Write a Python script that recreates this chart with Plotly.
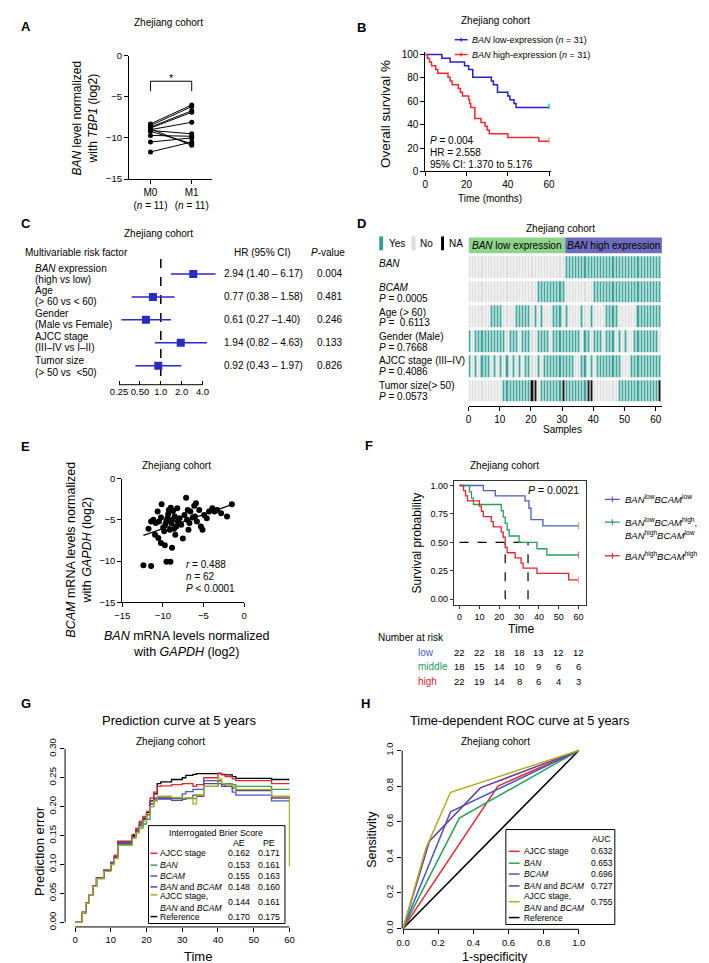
import numpy as np
import plotly.graph_objects as go

W, H = 709, 963
FONT = "Arial, Liberation Sans, Helvetica, sans-serif"

# ======================= DATA =======================
# Panel A (paired samples)
a_groups = ["M0", "M1"]
a_group_n = [11, 11]
a_m0 = [-8.3, -8.5, -8.7, -8.8, -9.0, -8.9, -9.1, -9.2, -9.7, -10.5, -11.7]
a_m1 = [-6.0, -6.2, -6.7, -6.9, -8.1, -10.9, -9.5, -10.7, -9.8, -10.0, -10.5]
a_yticks = [-15, -10, -5, 0]

# Panel B (Kaplan-Meier, %)
b_low_t = [0, 8, 12, 19, 21, 23, 32, 33, 35, 40, 41, 43, 44, 60]
b_low_s = [100, 96.8, 93.5, 90.3, 87.1, 80.6, 77.4, 74.2, 67.7, 64.5, 61.3, 58.1, 54.8, 54.8]
b_high_t = [0, 1, 2, 3, 5, 6, 11, 12, 13, 16, 17, 18, 21, 21.5, 22, 24, 27, 29, 30, 31, 40, 55, 60]
b_high_s = [100, 96.8, 93.5, 90.3, 87.1, 83.9, 80.6, 77.4, 74.2, 71.0, 67.7, 64.5, 61.3, 58.1,
            54.8, 45.2, 41.9, 38.7, 35.5, 32.3, 29.0, 25.8, 25.8]
b_xticks = [0, 20, 40, 60]
b_yticks = [0, 20, 40, 60, 80, 100]

# Panel C (forest plot)
c_factor_l1 = ["<i>BAN</i> expression", "Age", "Gender", "AJCC stage", "Tumor size"]
c_factor_l2 = ["(high vs low)", "(&gt; 60 vs &lt; 60)", "(Male vs Female)", "(III–IV vs I–II)", "(&gt; 50 vs  &lt;50)"]
c_hr = [2.94, 0.77, 0.61, 1.94, 0.92]
c_lo = [1.40, 0.38, 0.27, 0.82, 0.43]
c_hi = [6.17, 1.58, 1.40, 4.63, 1.97]
c_hr_text = ["2.94 (1.40 – 6.17)", "0.77 (0.38 – 1.58)", "0.61 (0.27 –1.40)",
             "1.94 (0.82 – 4.63)", "0.92 (0.43 – 1.97)"]
c_p = ["0.004", "0.481", "0.246", "0.133", "0.826"]
c_ticks = [0.25, 0.5, 1.0, 2.0, 4.0]
c_ticktext = ["0.25", "0.50", "1.0", "2.0", "4.0"]

# Panel D (Y = yes, N = no, A = NA), 62 samples per row
d_rows = ["<i>BAN</i>", "<i>BCAM</i>", "Age (&gt; 60)", "Gender (Male)", "AJCC stage (III–IV)", "Tumor size(&gt; 50)"]
d_pvals = ["", "0.0005", " 0.6113", "0.7668", "0.4086", "0.0573"]
d_ban = "NNNNNNNNNN" "NNNNNNNNNN" "NNNNNNNNNN" "NYYYYYYYYY" "YYYYYYYYYY" "YYYYYYYYYY" "YY"
d_bcam = "NNNNNNNNNN" "NNNNNNNNNN" "NNYYYYYYYY" "YNNNNNNNNN" "YYYYYYYYYY" "YYYYYYYYYY" "YY"
d_age = "NNNNNNNYYY" "YNNNNYYYYY" "NYNYNNNYYY" "NYNNNNYNNY" "NNNNYYYYNN" "NNNNYYYYYY" "YY"
d_gender = "YNYYYYYYYY" "YYNYYYNYYY" "NNYYYYNYYY" "YYYYYYNYYN" "YYYNYYYNYN" "YNNYYYYYYY" "YN"
d_ajcc = "YNYNYYYNYN" "YNYNYNYNYY" "NNYNYYYYYY" "YYYYNNYYNY" "NYYYYYYYYN" "NNYYYYYYYY" "YY"
d_tumor = "NNNNNNNNNN" "NYYYYYYYYY" "AANYYYYYYY" "AYYYYYYYAA" "NNNNNNNNYY" "YYYYYYYYYY" "YA"
d_xticks = [0, 10, 20, 30, 40, 50, 60]

# Panel E (scatter)
e_ban = [-11.77, -11.45, -11.17, -10.89, -10.65, -10.48, -10.24, -10.16, -9.96, -9.84, -9.68, -9.56,
         -9.44, -9.35, -9.27, -9.15, -9.03, -8.95, -8.83, -8.75, -8.63, -8.55, -8.47, -8.35, -8.23,
         -8.15, -7.94, -7.74, -7.54, -7.34, -7.14, -7.02, -6.94, -6.85, -6.73, -6.61, -6.33, -6.13,
         -6.05, -5.93, -5.81, -5.52, -5.32, -5.12, -4.92, -4.6, -4.31, -3.91, -3.63, -3.31, -2.82,
         -2.1, -1.5, -10.56, -10.24, -9.76, -8.87, -10.97, -12.4, -11.45, -9.56, -9.07]
e_bcam = [-6.08, -5.2, -5.0, -5.4, -4.0, -5.2, -4.72, -3.12, -5.92, -6.4, -5.52, -5.12, -4.8, -4.32,
          -3.8, -6.2, -3.52, -5.4, -5.0, -3.92, -6.08, -4.6, -6.8, -5.8, -3.6, -5.2, -4.8, -5.6,
          -7.28, -4.4, -2.32, -5.0, -3.8, -6.2, -5.4, -4.0, -4.72, -3.28, -4.6, -3.0, -5.2, -3.8,
          -5.8, -6.2, -4.4, -4.8, -4.0, -3.6, -4.0, -3.8, -4.2, -4.6, -3.12, -7.2, -7.8, -8.08,
          -8.4, -6.8, -10.5, -10.6, -10.1, -10.1]
e_ticks = [-15, -10, -5, 0]

# Panel F (Kaplan-Meier, 3 groups)
f_low_t = [0, 12, 18, 33, 35, 36, 42, 60]
f_low_s = [1.0, 0.955, 0.909, 0.864, 0.80, 0.70, 0.645, 0.645]
f_mid_t = [0, 5, 6, 7, 21, 22, 23, 24, 25, 30, 39, 44, 60]
f_mid_s = [1.0, 0.944, 0.889, 0.833, 0.778, 0.722, 0.667, 0.611, 0.556, 0.50, 0.444, 0.389, 0.389]
f_high_t = [0, 2, 3, 4, 10, 11, 12, 16, 17, 21, 22, 23, 24, 28, 31, 32, 39, 55, 60]
f_high_s = [1.0, 0.955, 0.909, 0.864, 0.818, 0.773, 0.727, 0.682, 0.636, 0.591, 0.545, 0.455,
            0.409, 0.364, 0.318, 0.273, 0.227, 0.17, 0.17]
f_xticks = [0, 10, 20, 30, 40, 50, 60]
f_yticks = [0, 0.25, 0.5, 0.75, 1.0]
f_risk_labels = ["low", "middle", "high"]
f_risk_low = [22, 22, 18, 18, 13, 12, 12]
f_risk_mid = [18, 15, 14, 10, 9, 6, 6]
f_risk_high = [22, 19, 14, 8, 6, 4, 3]

# Panel G (prediction error curves)
g_t = [0, 2, 3, 4, 5, 6, 8, 10, 11, 12, 16, 17, 18, 19, 20, 21, 22, 23, 24, 27, 30, 31, 33, 34,
       36, 40, 41, 42, 44, 45, 55, 60]
g_ref = [0, .017, .033, .048, .063, .077, .090, .103, .115, .140, .150, .160, .172, .180, .190, .210,
         .222, .240, .243, .247, .250, .254, .256, .257, .257, .257, .256, .255, .252, .249, .247, .247]
g_ajcc = [0, .017, .033, .048, .063, .077, .090, .104, .116, .140, .152, .163, .175, .183, .192, .215,
          .225, .235, .236, .238, .240, .240, .235, .238, .250, .258, .255, .252, .248, .245, .240, .240]
g_ban = [0, .017, .033, .048, .062, .076, .090, .102, .112, .135, .148, .155, .163, .170, .178, .200,
         .210, .215, .215, .214, .213, .214, .214, .220, .235, .245, .240, .240, .238, .235, .230, .230]
g_bcam = [0, .017, .033, .048, .062, .076, .090, .102, .113, .136, .148, .157, .168, .178, .186, .205,
          .215, .215, .215, .215, .222, .226, .230, .230, .245, .240, .238, .235, .225, .220, .210, .210]
g_both = [0, .017, .033, .048, .062, .077, .090, .103, .113, .138, .148, .157, .168, .178, .186, .205,
          .213, .213, .213, .211, .213, .215, .220, .218, .240, .245, .235, .238, .232, .228, .215, .215]
g_all = [0, .017, .033, .048, .062, .075, .088, .100, .110, .133, .145, .155, .165, .175, .185, .200,
         .210, .218, .218, .216, .215, .215, .205, .220, .235, .248, .240, .238, .235, .230, .218, .097]
g_names = ["AJCC stage", "<i>BAN</i>", "<i>BCAM</i>", "<i>BAN</i> and <i>BCAM</i>",
           "AJCC stage,<br><i>BAN</i> and <i>BCAM</i>", "Reference"]
g_ae = ["0.162", "0.153", "0.155", "0.148", "0.144", "0.170"]
g_pe = ["0.171", "0.161", "0.163", "0.160", "0.161", "0.175"]
g_xticks = [0, 10, 20, 30, 40, 50, 60]
g_yticks = [0, 0.05, 0.10, 0.15, 0.20, 0.25, 0.30]

# Panel H (ROC)
h_ajcc_x, h_ajcc_y = [0, 0.54, 1], [0, 0.80, 1]
h_ban_x, h_ban_y = [0, 0.32, 1], [0, 0.62, 1]
h_bcam_x, h_bcam_y = [0, 0.27, 1], [0, 0.655, 1]
h_both_x, h_both_y = [0, 0.15, 0.44, 1], [0, 0.49, 0.79, 1]
h_all_x, h_all_y = [0, 0.13, 0.27, 1], [0, 0.45, 0.765, 1]
h_ref_x, h_ref_y = [0, 1], [0, 1]
h_auc = ["0.632", "0.653", "0.696", "0.727", "0.755", ""]
h_ticks = [0, 0.2, 0.4, 0.6, 0.8, 1.0]

# colours
RED, GREEN, BLUE, PURPLE, OLIVE = "#e8262b", "#27a35a", "#4659c0", "#6a3d9a", "#adad22"
TEAL, GREY = "#34a096", "#dcdcdc"

# ======================= HELPERS =======================
def X(p):
    return p / W


def Y(p):
    return 1 - p / H


annotations, shapes = [], []


def ann(text, x, y, size=10, xa="center", ya="middle", angle=0, color="black",
        xref="paper", yref="paper", bold=False, align="center"):
    if bold:
        text = "<b>" + text + "</b>"
    annotations.append(dict(
        text=text, x=X(x) if xref == "paper" else x, y=Y(y) if yref == "paper" else y,
        xref=xref, yref=yref, showarrow=False, xanchor=xa, yanchor=ya, textangle=angle,
        align=align, borderpad=0, font=dict(family=FONT, size=size, color=color)))


def seg(x0, y0, x1, y1, color="black", width=1, dash="solid", xref="paper", yref="paper"):
    shapes.append(dict(
        type="line", xref=xref, yref=yref,
        x0=X(x0) if xref == "paper" else x0, x1=X(x1) if xref == "paper" else x1,
        y0=Y(y0) if yref == "paper" else y0, y1=Y(y1) if yref == "paper" else y1,
        line=dict(color=color, width=width, dash=dash), layer="above"))


def box(x0, y0, x1, y1, fill="rgba(0,0,0,0)", lc="rgba(0,0,0,0)", lw=1, xref="paper", yref="paper"):
    shapes.append(dict(
        type="rect", xref=xref, yref=yref,
        x0=X(x0) if xref == "paper" else x0, x1=X(x1) if xref == "paper" else x1,
        y0=Y(y0) if yref == "paper" else y0, y1=Y(y1) if yref == "paper" else y1,
        fillcolor=fill, line=dict(color=lc, width=lw), layer="above"))


def xdom(a, b):
    return [a / W, b / W]


def ydom(top, bottom):
    return [1 - bottom / H, 1 - top / H]


def base(size=9.5, **kw):
    d = dict(showgrid=False, zeroline=False, ticks="outside", ticklen=4, tickwidth=1,
             tickcolor="black", linecolor="black", linewidth=1, fixedrange=True,
             tickfont=dict(size=size, family=FONT, color="black"))
    d.update(kw)
    return d


fig = go.Figure()
layout = {}

# ======================= PANEL A =======================
layout["xaxis"] = base(10, domain=xdom(115, 200), type="category", range=[-0.524, 1.5], anchor="y",
                       showline=True, tickvals=a_groups,
                       ticktext=[f"{g}<br>(<i>n</i> = {n})" for g, n in zip(a_groups, a_group_n)])
layout["yaxis"] = base(9.5, domain=ydom(42, 167), range=[-15, 0], anchor="x", showline=True,
                       tickvals=a_yticks)
for v0, v1 in zip(a_m0, a_m1):
    fig.add_trace(go.Scatter(x=a_groups, y=[v0, v1], mode="lines+markers", xaxis="x", yaxis="y",
                             line=dict(color="black", width=1), marker=dict(color="black", size=5),
                             cliponaxis=False, hoverinfo="skip"))
ann("A", 4, 13, 13, xa="left", bold=True)
ann("Zhejiang cohort", 155, 9, 10)
ann("<i>BAN</i> level normalized<br>with <i>TBP1</i> (log2)", 70, 105, 12, angle=-90)
seg(137, 68, 179, 68)
seg(137, 68, 137, 78)
seg(179, 68, 179, 78)
ann("*", 158, 65, 11)

# ======================= PANEL B =======================
layout["xaxis2"] = base(10, domain=xdom(417, 545.1), range=[0, 61], anchor="y2", showline=True,
                        tickvals=b_xticks)
layout["yaxis2"] = base(10, domain=ydom(38.6, 159.3), range=[0, 102], anchor="x2", showline=True,
                        tickvals=b_yticks)
for t, s, c in [(b_low_t, b_low_s, "#2323c8"), (b_high_t, b_high_s, "#f02a2a")]:
    fig.add_trace(go.Scatter(x=t, y=s, mode="lines", line=dict(color=c, width=1.5, shape="hv"),
                             xaxis="x2", yaxis="y2", hoverinfo="skip"))
    fig.add_trace(go.Scatter(x=[t[-1]], y=[s[-1] + 1], mode="markers", xaxis="x2", yaxis="y2",
                             marker=dict(symbol="line-ns-open", size=4, line=dict(color=c, width=1.3)),
                             cliponaxis=False, hoverinfo="skip"))
ann("B", 346, 14, 13, xa="left", bold=True)
ann("Zhejiang cohort", 488, 7, 10)
for yy, c, txt in [(26, "#2323c8", "<i>BAN</i> low-expression (<i>n</i> = 31)"),
                   (41, "#f02a2a", "<i>BAN</i> high-expression (<i>n</i> = 31)")]:
    seg(447, yy, 460, yy, c, 1.5)
    seg(453.5, yy - 2, 453.5, yy + 2, c, 1.2)
    ann(txt, 463, yy, 9, xa="left")
ann("Overall survival %", 377, 101, 13.5, angle=-90)
ann("Time (months)", 483, 187, 10)
ann("<i>P</i> = 0.004", 421, 128, 10, xa="left")
ann("HR = 2.558", 421, 140, 10, xa="left")
ann("95% CI: 1.370 to 5.176", 421, 152, 10, xa="left")

# ======================= PANEL C =======================
layout["xaxis3"] = base(9.5, domain=xdom(95, 215), type="log", range=[-0.744, 0.956], anchor="y3",
                        showline=False, ticks="inside", ticklen=4, tickvals=c_ticks,
                        ticktext=c_ticktext)
layout["yaxis3"] = dict(domain=ydom(245, 375), range=[4.83, -0.776], visible=False, anchor="x3",
                        fixedrange=True)
c_idx = list(range(len(c_hr)))
fig.add_trace(go.Scatter(x=[1, 1], y=[-0.65, 4.83], mode="lines", xaxis="x3", yaxis="y3",
                         line=dict(color="black", width=1.5, dash="dash"), hoverinfo="skip"))
fig.add_trace(go.Scatter(
    x=c_hr, y=c_idx, mode="markers", xaxis="x3", yaxis="y3", hoverinfo="skip",
    marker=dict(symbol="square", size=8, color="#2a2ac4"),
    error_x=dict(type="data", symmetric=False, array=[h - m for h, m in zip(c_hi, c_hr)],
                 arrayminus=[m - l for m, l in zip(c_hr, c_lo)], color="#2a2ac4", thickness=1.5,
                 width=0)))
seg(105, 375, 190, 375)
ann("C", 4, 212, 13, xa="left", bold=True)
ann("Zhejiang cohort", 145, 222, 10)
ann("Multivariable risk factor", 8, 241, 10, xa="left")
ann("HR (95% CI)", 251, 241, 10)
ann("<i>P</i>-value", 318, 241, 10)
c_rowpx = [263, 285.5, 309, 332, 357]
for i in c_idx:
    ann(c_factor_l1[i], 18, c_rowpx[i] - 6, 10, xa="left")
    ann(c_factor_l2[i], 18, c_rowpx[i] + 5.5, 10, xa="left")
    ann(c_hr_text[i], 211, c_idx[i], 10, xa="left", yref="y3")
    ann(c_p[i], 306, c_idx[i], 10, xa="left", yref="y3")

# ======================= PANEL D =======================
code = {"N": 0, "Y": 1, "A": 2}
d_all = [d_ban, d_bcam, d_age, d_gender, d_ajcc, d_tumor]
d_z = [[code[ch] for ch in row] for row in d_all]
n_s = len(d_ban)
layout["xaxis4"] = base(10, domain=xdom(461, 658), range=[0, n_s], anchor="y4", showline=True,
                        tickvals=d_xticks)
layout["yaxis4"] = dict(domain=ydom(244, 397), range=[5.62, -0.5], visible=False, anchor="x4",
                        fixedrange=True)
fig.add_trace(go.Heatmap(
    z=d_z, x=[i + 0.5 for i in range(n_s)], y=list(range(len(d_all))), xaxis="x4", yaxis="y4",
    zmin=0, zmax=2, showscale=False, xgap=1.2, ygap=3, hoverinfo="skip",
    colorscale=[[0, GREY], [0.333, GREY], [0.334, TEAL], [0.666, TEAL], [0.667, "black"], [1, "black"]]))
box(0, 226, 31, 242, fill="#90d38b", xref="x4")
box(31, 226, 62, 242, fill="#6d6dbd", xref="x4")
ann("<i>BAN</i> low expression", 15.5, 234, 10, xref="x4")
ann("<i>BAN</i> high expression", 46.5, 234, 10, xref="x4")
ann("D", 346, 212, 13, xa="left", bold=True)
ann("Zhejiang cohort", 555, 217, 10)
box(370, 225, 374, 239, fill=TEAL)
ann("Yes", 379, 232, 10, xa="left")
box(403, 225, 407, 239, fill=GREY)
ann("No", 411, 232, 10, xa="left")
box(433, 225, 436, 239, fill="black")
ann("NA", 440, 232, 10, xa="left")
ann(d_rows[0], 369, 252, 10, xa="left")
d_rowpx = [257, 282, 307, 332, 356.5, 381]
for i in range(1, len(d_rows)):
    ann(d_rows[i], 369, d_rowpx[i] - 5.5, 10, xa="left")
    ann("<i>P</i> = " + d_pvals[i], 369, d_rowpx[i] + 5.5, 10, xa="left")
ann("Samples", 557, 420, 10)

# ======================= PANEL E =======================
layout["xaxis5"] = base(9.5, domain=xdom(108.3, 232.3), range=[-15, 0], anchor="y5", showline=True,
                        tickvals=e_ticks)
layout["yaxis5"] = base(9.5, domain=ydom(470, 595), range=[-15, 0], anchor="x5", showline=True,
                        tickvals=e_ticks)
fig.add_trace(go.Scatter(x=e_ban, y=e_bcam, mode="markers", xaxis="x5", yaxis="y5",
                         marker=dict(color="black", size=6), cliponaxis=False, hoverinfo="skip"))
slope, icpt = np.polyfit(e_ban, e_bcam, 1)
lx = [min(e_ban), max(e_ban)]
fig.add_trace(go.Scatter(x=lx, y=[slope * v + icpt for v in lx], mode="lines", xaxis="x5",
                         yaxis="y5", line=dict(color="black", width=1.2), hoverinfo="skip"))
ann("E", 4, 437, 13, xa="left", bold=True)
ann("Zhejiang cohort", 163, 457, 10)
ann("<i>BCAM</i> mRNA levels normalized<br>with <i>GAPDH</i> (log2)", 64, 542, 12.5, angle=-90)
ann("<i>BAN</i> mRNA levels normalized<br>with <i>GAPDH</i> (log2)", 174, 637, 12.5)
ann("<i>r</i> = 0.488", 172, 557, 10, xa="left")
ann("<i>n</i> = 62", 172, 569, 10, xa="left")
ann("<i>P</i> &lt; 0.0001", 172, 581, 10, xa="left")

# ======================= PANEL F =======================
FB, FG, FR = "#4c5cbf", "#2a9e58", "#e3262b"
layout["xaxis6"] = base(9, domain=xdom(446, 581), range=[-2.9, 63.9], anchor="y6", showline=True,
                        mirror=True, linecolor="#333333", tickcolor="#333333", ticklen=3,
                        tickvals=f_xticks)
layout["yaxis6"] = base(9, domain=ydom(472, 598), range=[-0.052, 1.043], anchor="x6", showline=True,
                        mirror=True, linecolor="#333333", tickcolor="#333333", ticklen=3,
                        tickvals=f_yticks, ticktext=["0.00", "0.25", "0.50", "0.75", "1.00"])


def km_median(t, s):
    for i, v in enumerate(s):
        if v < 0.5 - 1e-9:
            if abs(s[i - 1] - 0.5) < 1e-9:
                return (t[i - 1] + t[i]) / 2
            return t[i]
    return None


meds = [m for m in (km_median(f_mid_t, f_mid_s), km_median(f_high_t, f_high_s)) if m is not None]
fig.add_trace(go.Scatter(x=[0, max(meds)], y=[0.5, 0.5], mode="lines", xaxis="x6", yaxis="y6",
                         line=dict(color="black", width=1.2, dash="dash"), hoverinfo="skip"))
for m in meds:
    fig.add_trace(go.Scatter(x=[m, m], y=[0, 0.5], mode="lines", xaxis="x6", yaxis="y6",
                             line=dict(color="black", width=1.2, dash="dash"), hoverinfo="skip"))
for t, s, c in [(f_low_t, f_low_s, FB), (f_mid_t, f_mid_s, FG), (f_high_t, f_high_s, FR)]:
    fig.add_trace(go.Scatter(x=t, y=s, mode="lines", line=dict(color=c, width=1.3, shape="hv"),
                             xaxis="x6", yaxis="y6", hoverinfo="skip"))
    fig.add_trace(go.Scatter(x=[t[-1]], y=[s[-1]], mode="markers", xaxis="x6", yaxis="y6",
                             marker=dict(symbol="line-ns-open", size=5, line=dict(color=c, width=1.2)),
                             cliponaxis=False, hoverinfo="skip"))
ann("F", 354, 436, 13, xa="left", bold=True)
ann("Zhejiang cohort", 498, 457, 10)
ann("<i>P</i> = 0.0021", 521, 481, 10.5, xa="left")
ann("Survival probability", 408, 535, 12, angle=-90)
ann("Time", 515, 622, 12)
for yy, c in [(491, FB), (514, FG), (548, FR)]:
    seg(600, yy, 615, yy, c, 1.3)
    seg(607.5, yy - 3, 607.5, yy + 3, c, 1.1)
ann("<i>BAN</i><sup>low</sup><i>BCAM</i><sup>low</sup>", 619, 491, 9.5, xa="left")
ann("<i>BAN</i><sup>low</sup><i>BCAM</i><sup>high</sup>,", 619, 514, 9.5, xa="left")
ann("<i>BAN</i><sup>high</sup><i>BCAM</i><sup>low</sup>", 619, 527, 9.5, xa="left")
ann("<i>BAN</i><sup>high</sup><i>BCAM</i><sup>high</sup>", 619, 548, 9.5, xa="left")
ann("Number at risk", 368, 631, 10, xa="left")
for lab, vals, c, yy in [(f_risk_labels[0], f_risk_low, FB, 646), (f_risk_labels[1], f_risk_mid, FG, 660),
                         (f_risk_labels[2], f_risk_high, FR, 675)]:
    ann(lab, 408, yy, 10, xa="left", color=c)
    for tt, v in zip(f_xticks, vals):
        ann(str(v), tt, yy, 9.5, xref="x6")

# ======================= PANEL G =======================
layout["xaxis7"] = base(9.5, domain=xdom(50, 288), range=[-2.8, 62.6], anchor="y7", showline=False,
                        tickvals=g_xticks)
layout["yaxis7"] = base(9.5, domain=ydom(736.9, 923.5), range=[-0.008, 0.311], anchor="x7",
                        showline=False, tickvals=g_yticks, tickangle=-90,
                        ticktext=[f"{v:.2f}" for v in g_yticks])
g_series = [(g_ref, "black"), (g_ajcc, RED), (g_ban, GREEN), (g_bcam, BLUE), (g_both, PURPLE),
            (g_all, OLIVE)]
for vals, c in g_series:
    fig.add_trace(go.Scatter(x=g_t, y=vals, mode="lines", line=dict(color=c, width=1.3, shape="hv"),
                             xaxis="x7", yaxis="y7", hoverinfo="skip"))
seg(0, 923.5, 60, 923.5, xref="x7")
seg(50, 0, 50, 0.30, yref="y7")
ann("G", 4, 697, 13, xa="left", bold=True)
ann("Prediction curve at 5 years", 166, 715, 13)
ann("Zhejiang cohort", 157, 736, 10)
ann("Prediction error", 24, 847, 13, angle=-90)
ann("Time", 185, 953, 13)
box(135, 821, 274, 920, fill="white", lc="black", lw=1)
ann("Interrogated Brier Score", 204, 828, 8.8)
ann("AE", 227, 839, 8.8)
ann("PE", 258, 839, 8.8)
g_cols = [RED, GREEN, BLUE, PURPLE, OLIVE, "black"]
g_rowpx = [849, 861, 872, 883, 898, 913]
for i, (nm, c) in enumerate(zip(g_names, g_cols)):
    ly = g_rowpx[i] - 7 if i == 4 else g_rowpx[i]
    seg(137, ly, 144, ly, c, 1.5)
    if i == 4:
        ann("AJCC stage,", 146, g_rowpx[i] - 6, 8.6, xa="left")
        ann("<i>BAN</i> and <i>BCAM</i>", 146, g_rowpx[i] + 6, 8.6, xa="left")
    else:
        ann(nm, 146, g_rowpx[i], 8.6, xa="left")
    ann(g_ae[i], 227, g_rowpx[i], 8.8)
    ann(g_pe[i], 258, g_rowpx[i], 8.8)

# ======================= PANEL H =======================
layout["xaxis8"] = base(9.5, domain=xdom(393.4, 575.1), range=[-0.005, 1.01], anchor="y8",
                        showline=False, tickvals=h_ticks, ticktext=[f"{v:.1f}" for v in h_ticks])
layout["yaxis8"] = base(9.5, domain=ydom(743.2, 925.9), range=[-0.005, 1.01], anchor="x8",
                        showline=False, tickvals=h_ticks, tickangle=-90,
                        ticktext=[f"{v:.1f}" for v in h_ticks])
h_series = [(h_ref_x, h_ref_y, "black"), (h_ajcc_x, h_ajcc_y, RED), (h_ban_x, h_ban_y, GREEN),
            (h_bcam_x, h_bcam_y, BLUE), (h_both_x, h_both_y, PURPLE), (h_all_x, h_all_y, OLIVE)]
for hx, hy, c in h_series:
    fig.add_trace(go.Scatter(x=hx, y=hy, mode="lines", line=dict(color=c, width=1.5),
                             xaxis="x8", yaxis="y8", hoverinfo="skip"))
seg(0, 925.9, 1, 925.9, xref="x8")
seg(393.4, 0, 393.4, 1, yref="y8")
ann("H", 350, 697, 13, xa="left", bold=True)
ann("Time-dependent ROC curve at 5 years", 513, 715, 12.8)
ann("Zhejiang cohort", 488, 736, 10)
ann("Sensitivity", 363, 835, 12.5, angle=-90)
ann("1-specificity", 488, 954, 12.5)
box(499, 825, 610, 921, fill="white", lc="black", lw=1)
ann("AUC", 596, 835, 8.8)
h_rowpx = [847, 859, 870, 882, 898, 914]
for i, (nm, c) in enumerate(zip(g_names, g_cols)):
    seg(502, h_rowpx[i], 513, h_rowpx[i], c, 1.5)
    if i == 4:
        ann("AJCC stage,", 516, h_rowpx[i] - 6, 8.4, xa="left")
        ann("<i>BAN</i> and <i>BCAM</i>", 516, h_rowpx[i] + 6, 8.4, xa="left")
    else:
        ann(nm, 516, h_rowpx[i], 8.4, xa="left")
    if h_auc[i]:
        ann(h_auc[i], 597, h_rowpx[i], 8.6)

# ======================= LAYOUT =======================
layout.update(dict(
    width=W, height=H, margin=dict(l=0, r=0, t=0, b=0), paper_bgcolor="white",
    plot_bgcolor="rgba(0,0,0,0)", showlegend=False,
    font=dict(family=FONT, size=10, color="black"),
    annotations=annotations, shapes=shapes))
fig.update_layout(**layout)
fig.write_html("out.html", config={"displayModeBar": False})
